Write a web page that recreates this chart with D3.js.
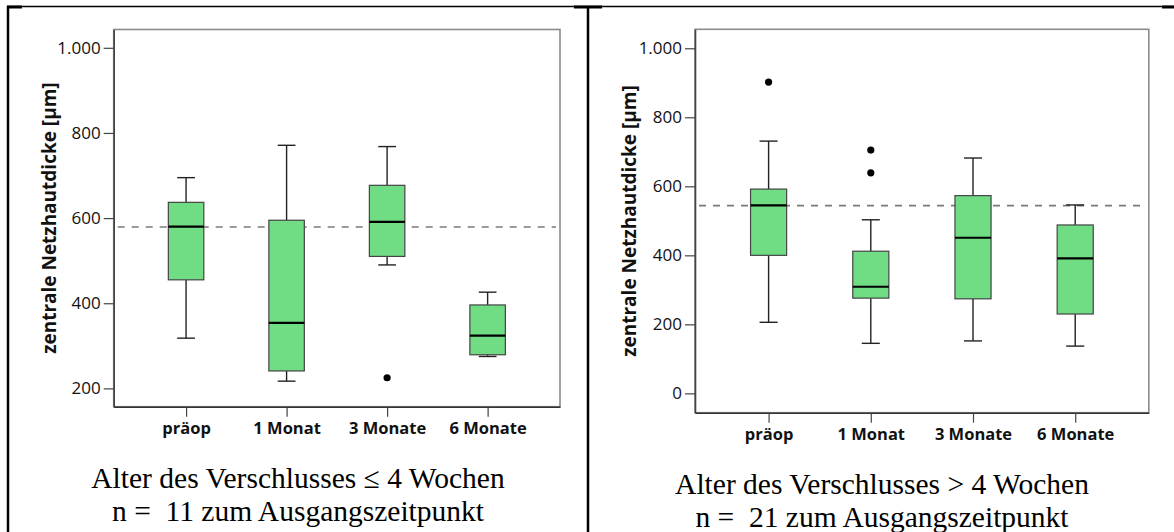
<!DOCTYPE html>
<html>
<head>
<meta charset="utf-8">
<script src="https://cdn.jsdelivr.net/npm/d3@7"></script>
<style>
  html, body { margin: 0; padding: 0; background: #fff; }
  svg { display: block; }
</style>
</head>
<body>
<svg id="chart" width="1174" height="532"></svg>
<script>
// Time points after surgery
const categories = ["präop", "1 Monat", "3 Monate", "6 Monate"];

// Occlusion age <= 4 weeks (n = 11)
const earlyWhiskerLow  = [318, 217, 490, 275];
const earlyQ1          = [455, 241, 510, 279];
const earlyMedian      = [580, 354, 591, 324];
const earlyQ3          = [637, 595, 677, 396];
const earlyWhiskerHigh = [695, 771, 768, 426];
const earlyOutliers    = [[], [], [225], []];
const earlyReference   = 579;
const earlyTicks       = [200, 400, 600, 800, 1000];
const earlyDomain      = [157, 1043];

// Occlusion age > 4 weeks (n = 21)
const lateWhiskerLow   = [206, 145, 152, 137];
const lateQ1           = [400, 276, 274, 230];
const lateMedian       = [545, 309, 451, 391];
const lateQ3           = [592, 412, 573, 488];
const lateWhiskerHigh  = [731, 503, 682, 546];
const lateOutliers     = [[902], [705, 639], [], []];
const lateReference    = 544;
const lateTicks        = [0, 200, 400, 600, 800, 1000];
const lateDomain       = [-56, 1055];

const yTitle = "zentrale Netzhautdicke [µm]";
const earlyCaption = ["Alter des Verschlusses ≤ 4 Wochen", "n =  11 zum Ausgangszeitpunkt"];
const lateCaption  = ["Alter des Verschlusses > 4 Wochen", "n =  21 zum Ausgangszeitpunkt"];

const deLocale = d3.formatLocale({ decimal: ",", thousands: ".", grouping: [3], currency: ["", " €"] });
const fmt = deLocale.format(",d");

const svg = d3.select("#chart");
svg.append("rect").attr("width", 1174).attr("height", 532).attr("fill", "#fff");

const sans = "'Open Sans', 'DejaVu Sans', sans-serif";
const serif = "'Liberation Serif', 'Times New Roman', serif";
const boxFill = "#70dc84";

function drawPanel(p) {
  const g = svg.append("g");
  const x = d3.scalePoint().domain(categories).range([p.left, p.right]).padding(0.72);
  const y = d3.scaleLinear().domain(p.domain).range([p.bottom, p.top]);
  const boxW = x.step() * 0.353;
  const capW = boxW / 2;

  // plot frame (top and right lighter)
  g.append("rect")
    .attr("x", p.left).attr("y", p.top)
    .attr("width", p.right - p.left).attr("height", p.bottom - p.top)
    .attr("fill", "#fff").attr("stroke", "#8c8c8c").attr("stroke-width", 1.6);

  // reference line
  g.append("line")
    .attr("x1", p.left + 4).attr("x2", p.right - 4)
    .attr("y1", y(p.reference)).attr("y2", y(p.reference))
    .attr("stroke", "#7a7a7a").attr("stroke-width", 1.6)
    .attr("stroke-dasharray", "7,7");

  // y axis
  const yAxis = d3.axisLeft(y).tickValues(p.ticks).tickFormat(fmt)
    .tickSizeInner(10).tickSizeOuter(0).tickPadding(3);
  const ya = g.append("g").attr("transform", `translate(${p.left},0)`).call(yAxis);
  ya.select(".domain").attr("stroke", "#444").attr("stroke-width", 1.6);
  ya.selectAll(".tick line").attr("stroke", "#444").attr("stroke-width", 1.2);
  ya.selectAll(".tick text").attr("font-family", sans).attr("font-size", 17).attr("fill", "#111");

  // x axis
  const xAxis = d3.axisBottom(x).tickSizeInner(10).tickSizeOuter(0).tickPadding(6);
  const xa = g.append("g").attr("transform", `translate(0,${p.bottom})`).call(xAxis);
  xa.select(".domain").attr("stroke", "#333").attr("stroke-width", 1.6);
  xa.selectAll(".tick line").attr("stroke", "#444").attr("stroke-width", 1.2);
  xa.selectAll(".tick text").attr("font-family", sans).attr("font-size", 16.5)
    .attr("font-weight", "bold").attr("fill", "#111");

  // y title
  g.append("text")
    .attr("transform", `translate(${p.titleX},${(p.top + p.bottom) / 2}) rotate(-90)`)
    .attr("text-anchor", "middle")
    .attr("font-family", sans).attr("font-size", 19).attr("font-weight", "bold")
    .attr("fill", "#111")
    .text(yTitle);

  const boxes = g.selectAll(".box").data(categories).join("g").attr("class", "box");

  // whiskers
  boxes.append("line")
    .attr("x1", d => x(d)).attr("x2", d => x(d))
    .attr("y1", (d, i) => y(p.hi[i])).attr("y2", (d, i) => y(p.q3[i]))
    .attr("stroke", "#222").attr("stroke-width", 1.4);
  boxes.append("line")
    .attr("x1", d => x(d)).attr("x2", d => x(d))
    .attr("y1", (d, i) => y(p.lo[i])).attr("y2", (d, i) => y(p.q1[i]))
    .attr("stroke", "#222").attr("stroke-width", 1.4);
  boxes.append("line")
    .attr("x1", d => x(d) - capW / 2).attr("x2", d => x(d) + capW / 2)
    .attr("y1", (d, i) => y(p.hi[i])).attr("y2", (d, i) => y(p.hi[i]))
    .attr("stroke", "#222").attr("stroke-width", 1.4);
  boxes.append("line")
    .attr("x1", d => x(d) - capW / 2).attr("x2", d => x(d) + capW / 2)
    .attr("y1", (d, i) => y(p.lo[i])).attr("y2", (d, i) => y(p.lo[i]))
    .attr("stroke", "#222").attr("stroke-width", 1.4);

  // boxes
  boxes.append("rect")
    .attr("x", d => x(d) - boxW / 2).attr("width", boxW)
    .attr("y", (d, i) => y(p.q3[i]))
    .attr("height", (d, i) => y(p.q1[i]) - y(p.q3[i]))
    .attr("fill", boxFill).attr("stroke", "#444").attr("stroke-width", 1.2);

  // medians
  boxes.append("line")
    .attr("x1", d => x(d) - boxW / 2).attr("x2", d => x(d) + boxW / 2)
    .attr("y1", (d, i) => y(p.med[i])).attr("y2", (d, i) => y(p.med[i]))
    .attr("stroke", "#000").attr("stroke-width", 2.2);

  // outliers
  boxes.each(function (d, i) {
    d3.select(this).selectAll("circle").data(p.out[i]).join("circle")
      .attr("cx", x(d)).attr("cy", v => y(v)).attr("r", 3.6).attr("fill", "#000");
  });

  // caption
  const cap = g.append("text")
    .attr("font-family", serif).attr("font-size", 29.5).attr("fill", "#000")
    .attr("text-anchor", "middle").attr("xml:space", "preserve")
    .style("white-space", "pre");
  p.caption.forEach((line, k) => {
    cap.append("tspan").attr("x", p.capX).attr("y", p.capY[k]).text(line);
  });
}

drawPanel({
  left: 113.7, right: 560, top: 29.5, bottom: 406.7,
  domain: earlyDomain, ticks: earlyTicks, reference: earlyReference,
  lo: earlyWhiskerLow, q1: earlyQ1, med: earlyMedian, q3: earlyQ3, hi: earlyWhiskerHigh,
  out: earlyOutliers, titleX: 56, caption: earlyCaption, capX: 298, capY: [488, 521]
});

drawPanel({
  left: 695, right: 1148.8, top: 29.3, bottom: 412.7,
  domain: lateDomain, ticks: lateTicks, reference: lateReference,
  lo: lateWhiskerLow, q1: lateQ1, med: lateMedian, q3: lateQ3, hi: lateWhiskerHigh,
  out: lateOutliers, titleX: 636, caption: lateCaption, capX: 882, capY: [494, 527]
});

// surrounding table rules
const rules = svg.append("g").attr("stroke", "#000");
rules.append("line").attr("x1", 7).attr("x2", 1174).attr("y1", 6.5).attr("y2", 6.5).attr("stroke-width", 1.5);
rules.append("line").attr("x1", 8).attr("x2", 8).attr("y1", 6).attr("y2", 532).attr("stroke-width", 2.5);
rules.append("line").attr("x1", 588).attr("x2", 588).attr("y1", 6).attr("y2", 532).attr("stroke-width", 2.5);
rules.append("line").attr("x1", 7).attr("x2", 22).attr("y1", 7).attr("y2", 7).attr("stroke-width", 3);
rules.append("line").attr("x1", 574).attr("x2", 602).attr("y1", 7).attr("y2", 7).attr("stroke-width", 3);
rules.append("line").attr("x1", 1162).attr("x2", 1174).attr("y1", 7).attr("y2", 7).attr("stroke-width", 3);
</script>
</body>
</html>
